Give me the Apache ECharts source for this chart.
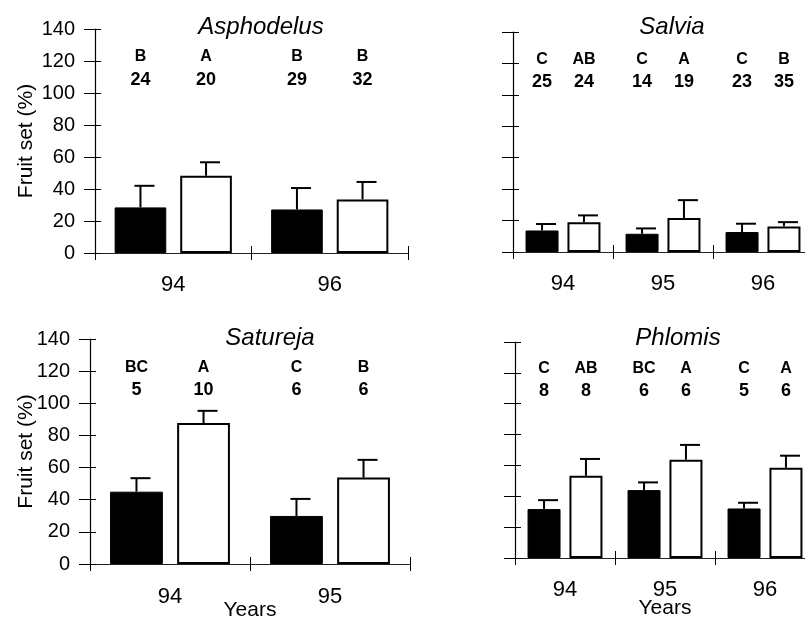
<!DOCTYPE html>
<html>
<head>
<meta charset="utf-8">
<script src="https://cdn.jsdelivr.net/npm/echarts@6/dist/echarts.min.js"></script>
<style>
    html, body { margin: 0; padding: 0; background: #fff; }
    #myChart { width: 805px; height: 619px; }
</style>
</head>
<body>
<div id="myChart"></div>
<script>
    /////////////////////////
    // data: fruit set (%) mean, SE (upper bar), letters and n

    // Asphodelus
    var asphYears = ['94', '96'];
    var asphClosed = [28.5, 27.2];
    var asphClosedSe = [13.5, 13.4];
    var asphOpen = [48.3, 33.5];
    var asphOpenSe = [8.4, 10.9];
    var asphClosedLetter = ['B', 'B'];
    var asphOpenLetter = ['A', 'B'];
    var asphClosedN = [24, 29];
    var asphOpenN = [20, 32];

    // Salvia
    var salvYears = ['94', '95', '96'];
    var salvClosed = [13.7, 11.6, 12.7];
    var salvClosedSe = [4.1, 3.4, 5.3];
    var salvOpen = [19, 21.6, 16.3];
    var salvOpenSe = [4.3, 11.4, 2.7];
    var salvClosedLetter = ['C', 'C', 'C'];
    var salvOpenLetter = ['AB', 'A', 'B'];
    var salvClosedN = [25, 14, 23];
    var salvOpenN = [24, 19, 35];

    // Satureja
    var satuYears = ['94', '95'];
    var satuClosed = [45, 29.9];
    var satuClosedSe = [8.4, 10.6];
    var satuOpen = [87.7, 53.8];
    var satuOpenSe = [7.6, 11];
    var satuClosedLetter = ['BC', 'C'];
    var satuOpenLetter = ['A', 'B'];
    var satuClosedN = [5, 6];
    var satuOpenN = [10, 6];

    // Phlomis
    var phloYears = ['94', '95', '96'];
    var phloClosed = [31.7, 44, 32.1];
    var phloClosedSe = [5.8, 5, 3.7];
    var phloOpen = [53.3, 63.7, 58.5];
    var phloOpenSe = [10.9, 9.6, 7.8];
    var phloClosedLetter = ['C', 'BC', 'C'];
    var phloOpenLetter = ['AB', 'A', 'A'];
    var phloClosedN = [8, 6, 5];
    var phloOpenN = [8, 6, 6];

    var yTicks = [0, 20, 40, 60, 80, 100, 120, 140];

    /////////////////////////

    var FONT = '"Liberation Sans", Arial, sans-serif';
    var BAR_PCT = 0.33;
    var GAP_PCT = 0.27;
    var LETTER_Y = 122.5;
    var N_Y = 108;

    var panels = [
        {title: 'Asphodelus', years: asphYears, closed: asphClosed, closedSe: asphClosedSe, open: asphOpen, openSe: asphOpenSe,
         closedLetter: asphClosedLetter, openLetter: asphOpenLetter, closedN: asphClosedN, openN: asphOpenN},
        {title: 'Salvia', years: salvYears, closed: salvClosed, closedSe: salvClosedSe, open: salvOpen, openSe: salvOpenSe,
         closedLetter: salvClosedLetter, openLetter: salvOpenLetter, closedN: salvClosedN, openN: salvOpenN},
        {title: 'Satureja', years: satuYears, closed: satuClosed, closedSe: satuClosedSe, open: satuOpen, openSe: satuOpenSe,
         closedLetter: satuClosedLetter, openLetter: satuOpenLetter, closedN: satuClosedN, openN: satuOpenN},
        {title: 'Phlomis', years: phloYears, closed: phloClosed, closedSe: phloClosedSe, open: phloOpen, openSe: phloOpenSe,
         closedLetter: phloClosedLetter, openLetter: phloOpenLetter, closedN: phloClosedN, openN: phloOpenN}
    ];

    // layout of each panel
    var layout = [
        {grid: {left: 95, top: 29, width: 313, height: 224}, title: [261, 15], yLabels: true, yNameGap: 58, xMargin: 21, xName: ''},
        {grid: {left: 513, top: 32, width: 300, height: 220}, title: [672, 15], yLabels: false, yNameGap: 58, xMargin: 21, xName: ''},
        {grid: {left: 90, top: 339, width: 320, height: 225}, title: [270, 326], yLabels: true, yNameGap: 53, xMargin: 22, xName: 'Years', xNameGap: 36},
        {grid: {left: 515, top: 342, width: 300, height: 216}, title: [678, 326], yLabels: false, yNameGap: 58, xMargin: 21, xName: 'Years', xNameGap: 40}
    ];

    var myChart;

    function getMyChart() {
        if (myChart != undefined) {
            return myChart;
        }
        myChart = echarts.init(document.getElementById('myChart'), null, {renderer: 'canvas'});
        return myChart;
    }

    // error bar (upper only) + letter + n above each bar
    function makeRenderItem(items) {
        return function (params, api) {
            var d = items[params.dataIndex];
            var cw = api.size([1, 0])[0];
            var bw = cw * BAR_PCT;
            var gap = bw * GAP_PCT;
            var cx = api.coord([d.cat, 0])[0] + d.side * (bw + gap) / 2;
            var yTop = api.coord([d.cat, d.mean])[1];
            var yErr = api.coord([d.cat, d.mean + d.se])[1];
            var yLet = api.coord([d.cat, LETTER_Y])[1];
            var yN = api.coord([d.cat, N_Y])[1];
            return {
                type: 'group',
                children: [
                    {type: 'line', shape: {x1: cx, y1: yTop, x2: cx, y2: yErr}, style: {stroke: '#000', lineWidth: 2}},
                    {type: 'line', shape: {x1: cx - 6, y1: yErr, x2: cx + 14, y2: yErr}, style: {stroke: '#000', lineWidth: 2}},
                    {type: 'text', x: cx, y: yLet, style: {text: d.letter, font: 'bold 16px ' + FONT, fill: '#000', align: 'center', verticalAlign: 'middle'}},
                    {type: 'text', x: cx, y: yN, style: {text: String(d.n), font: 'bold 18px ' + FONT, fill: '#000', align: 'center', verticalAlign: 'middle'}}
                ]
            };
        };
    }

    function makeStaticOptions() {
        var option = {
            backgroundColor: '#fff',
            animation: false,
            title: [],
            grid: [],
            xAxis: [],
            yAxis: [],
            series: []
        };

        panels.forEach(function (p, i) {
            var L = layout[i];
            option.title.push({
                text: p.title,
                left: L.title[0],
                top: L.title[1],
                textAlign: 'center',
                padding: 0,
                textStyle: {fontFamily: FONT, fontSize: 24, fontStyle: 'italic', fontWeight: 'normal', color: '#000'}
            });
            var g = L.grid;
            option.grid.push({left: g.left, top: g.top, width: g.width, height: g.height,
                              containLabel: false, outerBoundsMode: 'none'});

            // main x axis (ticks downward) + twin with ticks upward
            option.xAxis.push({
                gridIndex: i,
                type: 'category',
                position: 'bottom',
                data: p.years,
                axisLine: {show: true, lineStyle: {color: '#222', width: 1}},
                axisTick: {show: true, length: 7, lineStyle: {color: '#000', width: 1}},
                axisLabel: {show: true, margin: L.xMargin, fontSize: 22, fontFamily: FONT, color: '#000'},
                name: L.xName,
                nameLocation: 'middle',
                nameGap: L.xNameGap || 0,
                nameMoveOverlap: false,
                nameTextStyle: {fontSize: 21, fontFamily: FONT, color: '#000'},
                splitLine: {show: false}
            });
            option.xAxis.push({
                gridIndex: i,
                type: 'category',
                position: 'bottom',
                data: p.years,
                axisLine: {show: false},
                axisTick: {show: true, inside: true, length: 7, lineStyle: {color: '#000', width: 1}},
                axisLabel: {show: false},
                splitLine: {show: false}
            });

            option.yAxis.push({
                gridIndex: i,
                type: 'value',
                position: 'left',
                min: yTicks[0],
                max: yTicks[yTicks.length - 1],
                interval: yTicks[1] - yTicks[0],
                axisLine: {show: true, lineStyle: {color: '#000', width: 1.2}},
                axisTick: {show: true, length: 11, lineStyle: {color: '#000', width: 1}},
                axisLabel: {show: L.yLabels, margin: 20, fontSize: 20, fontFamily: FONT, color: '#000'},
                name: L.yLabels ? 'Fruit set (%)' : '',
                nameLocation: 'middle',
                nameGap: L.yNameGap,
                nameMoveOverlap: false,
                nameTextStyle: {fontSize: 21, fontFamily: FONT, color: '#000'},
                splitLine: {show: false}
            });
            option.yAxis.push({
                gridIndex: i,
                type: 'value',
                position: 'left',
                min: yTicks[0],
                max: yTicks[yTicks.length - 1],
                interval: yTicks[1] - yTicks[0],
                axisLine: {show: false},
                axisTick: {show: true, inside: true, length: 6, lineStyle: {color: '#000', width: 1}},
                axisLabel: {show: false},
                splitLine: {show: false}
            });

            option.series.push({
                type: 'bar',
                xAxisIndex: 2 * i,
                yAxisIndex: 2 * i,
                data: p.closed,
                barWidth: (BAR_PCT * 100) + '%',
                barGap: (GAP_PCT * 100) + '%',
                itemStyle: {color: '#000', borderColor: '#000', borderWidth: 1}
            });
            option.series.push({
                type: 'bar',
                xAxisIndex: 2 * i,
                yAxisIndex: 2 * i,
                data: p.open,
                barWidth: (BAR_PCT * 100) + '%',
                barGap: (GAP_PCT * 100) + '%',
                itemStyle: {color: '#fff', borderColor: '#000', borderWidth: 2}
            });

            var items = [];
            p.years.forEach(function (y, k) {
                items.push({cat: k, side: -1, mean: p.closed[k], se: p.closedSe[k], letter: p.closedLetter[k], n: p.closedN[k]});
                items.push({cat: k, side: 1, mean: p.open[k], se: p.openSe[k], letter: p.openLetter[k], n: p.openN[k]});
            });
            option.series.push({
                type: 'custom',
                xAxisIndex: 2 * i,
                yAxisIndex: 2 * i,
                clip: false,
                z: 5,
                renderItem: makeRenderItem(items),
                encode: {x: 0, y: 1},
                data: items.map(function (d) { return [d.cat, d.mean + d.se]; })
            });
        });

        return option;
    }

    getMyChart().setOption(makeStaticOptions());
</script>
</body>
</html>
